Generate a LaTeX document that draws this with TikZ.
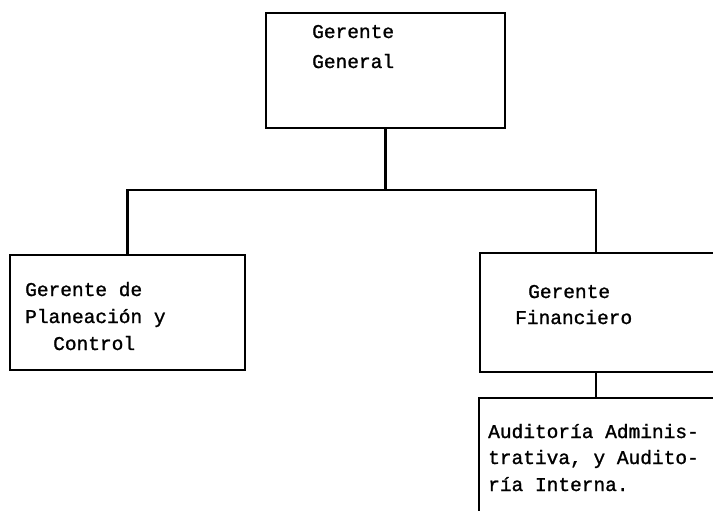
\documentclass[tikz,border=0pt]{standalone}
\usepackage{fontspec}
\setmonofont[FakeBold=1.2]{Liberation Mono}
\begin{document}
\begin{tikzpicture}[x=1pt,y=-1pt,
  box/.style={draw, line width=2.4pt, rectangle, inner sep=0pt, outer sep=0pt},
  conn/.style={line width=2.4pt},
  lbl/.style={anchor=base west, inner sep=0pt, font=\ttfamily\fontsize{19.5}{27}\selectfont}]
\clip (0,0) rectangle (713,511);
\fill[white] (0,0) rectangle (713,511);
% boxes
\node[box, minimum width=239pt, minimum height=115pt] (gg) at (385.5,70.5) {};
\node[box, minimum width=235pt, minimum height=115pt] (lp) at (127.5,312.5) {};
\node[box, minimum width=255pt, minimum height=119pt] (fin) at (607.5,312.5) {};
\node[box, minimum width=256pt, minimum height=132pt] (aud) at (607,464) {};
% connectors
\coordinate (bl) at (127.5,190);
\coordinate (br) at (596,190);
\draw[conn] (gg.south) -- (gg.south |- bl);
\draw[conn] (lp.north) -- (bl) -- (br) -- (br |- fin.north);
\draw[conn] (fin.south -| br) -- (aud.north -| br);
% texts
\node[lbl] (g1) at (312,38) {Gerente};
\node[lbl] (g2) at (312,68) {General};
\node[lbl] (l1) at (25,296) {Gerente de};
\node[lbl] (l2) at (25,323) {Planeación y};
\node[lbl] (l3) at (53,350) {Control};
\node[lbl] (f1) at (528,298) {Gerente};
\node[lbl] (f2) at (515,324) {Financiero};
\node[lbl] (a1) at (488,438) {Auditoría Adminis-};
\node[lbl] (a2) at (488,464) {trativa, y Audito-};
\node[lbl] (a3) at (488,491) {ría Interna.};
\end{tikzpicture}
\end{document}
